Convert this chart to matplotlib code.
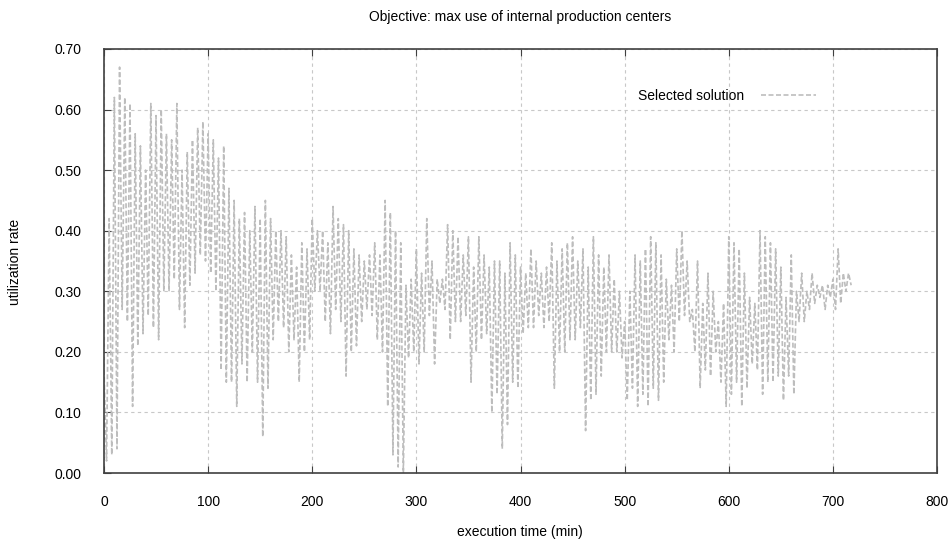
"""
Utilization rate of the selected solution over execution time
"""

import numpy as np
import matplotlib
matplotlib.use("Agg")
import matplotlib.pyplot as plt

plt.rcParams['font.family'] = ['Liberation Sans', 'DejaVu Sans']

# start of each 5-minute window (min)
window_start = list(range(0, 720, 5))

# highest / lowest value reached by the solution in each window
peak = [0.17, 0.42, 0.62, 0.67, 0.62, 0.61, 0.56, 0.54, 0.50, 0.61,
        0.59, 0.60, 0.56, 0.55, 0.61, 0.50, 0.53, 0.55, 0.57, 0.58,
        0.56, 0.55, 0.52, 0.54, 0.47, 0.45, 0.42, 0.43, 0.40, 0.44,
        0.42, 0.45, 0.42, 0.40, 0.40, 0.39, 0.36, 0.34, 0.38, 0.37,
        0.42, 0.40, 0.40, 0.38, 0.44, 0.42, 0.41, 0.40, 0.37, 0.36,
        0.35, 0.36, 0.38, 0.36, 0.45, 0.43, 0.40, 0.38, 0.31, 0.32,
        0.37, 0.33, 0.42, 0.35, 0.32, 0.32, 0.41, 0.40, 0.39, 0.36,
        0.39, 0.34, 0.39, 0.36, 0.34, 0.35, 0.35, 0.33, 0.38, 0.36,
        0.34, 0.33, 0.37, 0.35, 0.33, 0.34, 0.38, 0.35, 0.37, 0.38,
        0.39, 0.35, 0.37, 0.34, 0.39, 0.36, 0.34, 0.36, 0.32, 0.30,
        0.25, 0.30, 0.36, 0.35, 0.37, 0.39, 0.38, 0.36, 0.32, 0.31,
        0.37, 0.40, 0.35, 0.27, 0.35, 0.28, 0.33, 0.30, 0.25, 0.28,
        0.39, 0.38, 0.37, 0.33, 0.29, 0.28, 0.40, 0.39, 0.38, 0.37,
        0.34, 0.29, 0.36, 0.30, 0.33, 0.30, 0.33, 0.31, 0.31, 0.31,
        0.32, 0.37, 0.33, 0.33]
trough = [0.02, 0.03, 0.04, 0.27, 0.25, 0.11, 0.21, 0.23, 0.26, 0.24,
          0.22, 0.30, 0.30, 0.32, 0.27, 0.24, 0.31, 0.33, 0.36, 0.35,
          0.33, 0.30, 0.17, 0.15, 0.15, 0.11, 0.18, 0.15, 0.20, 0.15,
          0.06, 0.14, 0.22, 0.25, 0.24, 0.20, 0.22, 0.15, 0.20, 0.22,
          0.30, 0.30, 0.25, 0.23, 0.27, 0.25, 0.16, 0.20, 0.21, 0.25,
          0.27, 0.26, 0.22, 0.20, 0.11, 0.03, 0.01, 0.00, 0.19, 0.20,
          0.18, 0.20, 0.26, 0.18, 0.28, 0.27, 0.22, 0.25, 0.25, 0.26,
          0.15, 0.20, 0.22, 0.23, 0.10, 0.13, 0.04, 0.08, 0.15, 0.14,
          0.23, 0.24, 0.24, 0.26, 0.24, 0.25, 0.14, 0.20, 0.20, 0.22,
          0.22, 0.24, 0.07, 0.12, 0.13, 0.16, 0.20, 0.20, 0.20, 0.19,
          0.12, 0.14, 0.11, 0.13, 0.11, 0.14, 0.12, 0.15, 0.22, 0.20,
          0.25, 0.26, 0.25, 0.20, 0.14, 0.17, 0.16, 0.20, 0.15, 0.11,
          0.13, 0.15, 0.11, 0.14, 0.18, 0.17, 0.13, 0.15, 0.15, 0.16,
          0.12, 0.16, 0.13, 0.25, 0.25, 0.27, 0.28, 0.29, 0.27, 0.29,
          0.27, 0.28, 0.30, 0.31]

# the solution swings between peak and trough inside each window
t = []
rate = []
for start, hi, lo in zip(window_start, peak, trough):
  t += [start, start + 2.5]
  rate += [hi, lo]

fig = plt.figure(figsize=(9.52, 5.43), dpi=100)
ax = fig.add_axes([0.1092, 0.1289, 0.8751, 0.7809])

ax.plot(t, rate, color="#bdbdbd", lw=1.2, linestyle=(0, (3, 1.5)),
        label="Selected solution")

ax.set_xlim(0, 800)
ax.set_ylim(0, 0.7)
ax.set_xticks(np.arange(0, 801, 100))
ax.set_yticks(np.arange(0, 0.71, 0.1))
ax.set_yticklabels(["{:.2f}".format(v) for v in np.arange(0, 0.71, 0.1)])
ax.grid(True, color="#c8c8c8", linestyle=(0, (3, 3)), lw=0.8)
ax.tick_params(direction="in", length=5, top=True, right=False,
               labelsize=10, color="#404040")
ax.tick_params(axis="x", pad=16)
ax.tick_params(axis="y", pad=16)
for s in ax.spines.values():
  s.set_color("#404040")
  s.set_linewidth(1.2)

ax.set_title("Objective: max use of internal production centers",
             fontsize=10, pad=20)
# axis labels placed like the original (gnuplot-style spacing)
fig.text(520 / 952, 1 - 532 / 543, "execution time (min)", fontsize=10,
         ha="center", va="center")
fig.text(15 / 952, 1 - 262 / 543, "utilization rate", fontsize=10,
         ha="center", va="center", rotation=90)

ax.legend(loc="upper right", bbox_to_anchor=(0.87, 0.935), frameon=False,
          markerfirst=False, fontsize=10, handlelength=4.0,
          handletextpad=1.2)

fig.savefig("out.png", dpi=100)
